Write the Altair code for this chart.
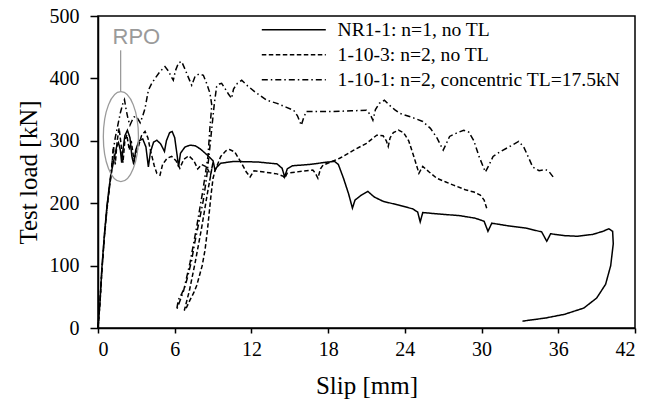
import altair as alt
import pandas as pd

# ---- data ----
series_labels = ["NR1-1: n=1, no TL", "1-10-3: n=2, no TL", "1-10-1: n=2, concentric TL=17.5kN"]

nr_slip = [0, 0.15, 0.3, 0.5, 0.7, 0.9, 1.1, 1.3, 1.45, 1.6, 1.75, 1.85, 1.95, 2.1, 2.3, 2.5, 2.65, 2.8,
           2.95, 3.2, 3.5, 3.75, 3.94, 4.1, 4.35, 4.6, 4.9, 5.2, 5.35, 5.6, 5.8, 6.0, 6.2, 6.3, 6.45, 6.8,
           7.2, 7.6, 8.0, 8.5, 9.0, 9.15, 9.3, 9.6, 10.6, 12.5, 14.0, 14.4, 14.6, 14.8, 15.2, 16.5, 18.0,
           18.5, 18.8, 19.2, 19.6, 19.9, 20.1, 20.6, 21.1, 21.6, 22.3, 23.5, 24.6, 25.0, 25.2, 25.4, 26.5,
           28.3, 29.5, 30.2, 30.5, 30.8, 32.0, 33.5, 34.7, 35.1, 35.4, 36.5, 37.5, 38.7, 39.5, 39.95, 40.25,
           40.3, 40.1, 39.7, 39.0, 38.0, 36.5, 35.0, 33.2]
nr_load = [0, 40, 95, 150, 195, 230, 255, 275, 290, 297, 285, 265, 285, 308, 317, 305, 275, 262,
           285, 300, 303, 290, 258, 282, 298, 301, 295, 283, 300, 313, 315, 305, 275, 258, 280, 290,
           293, 292, 287, 278, 268, 253, 258, 264, 267, 266, 263, 256, 242, 255, 260, 262, 266,
           267, 262, 240, 215, 192, 205, 213, 219, 210, 203, 197, 191, 186, 170, 185, 183,
           180, 176, 171, 155, 168, 164, 160, 154, 139, 151, 148, 147, 150, 155, 159, 155,
           135, 100, 70, 48, 32, 22, 16, 11]

s3_slip = [0, 0.15, 0.3, 0.5, 0.7, 0.9, 1.05, 1.2, 1.35, 1.5, 1.65, 1.8, 1.95, 2.1, 2.25, 2.45, 2.6,
           2.8, 3.15, 3.4, 3.68, 3.9, 4.1, 4.4, 4.6, 4.85, 5.05, 5.4, 5.76, 6.1, 6.4, 6.7, 7.1, 7.5, 7.8,
           8.1, 8.5, 8.8, 9.0, 8.55, 8.1, 7.6, 7.15, 6.75, 6.9, 7.2, 7.5, 7.72, 7.95, 8.15, 8.37, 8.55,
           8.7, 8.85, 9.0, 9.15, 9.35, 9.6, 10.0, 10.3, 10.7, 11.2, 11.6, 11.9, 12.2, 13.0, 14.0, 14.5,
           14.6, 14.8, 15.5, 16.3, 16.8, 17.0, 17.2, 17.4, 17.6, 18.2, 18.9, 20.0, 21.0, 21.8, 22.3,
           22.55, 22.7, 22.85, 23.1, 23.5, 23.9, 24.3, 24.7, 25.1, 25.4, 25.9, 26.5, 27.2, 27.8, 28.8,
           29.4, 29.9, 30.2, 30.4]
s3_load = [0, 38, 90, 145, 190, 225, 250, 290, 262, 300, 320, 295, 265, 300, 310, 285, 300,
           270, 290, 308, 315, 305, 285, 260, 248, 245, 262, 272, 275, 268, 256, 270, 276, 268, 255,
           262, 258, 245, 266, 215, 160, 105, 60, 28, 32, 45, 57, 68, 85, 100, 125, 155,
           185, 215, 240, 252, 262, 275, 284, 286, 282, 265, 250, 242, 252, 250, 247, 243,
           240, 248, 250, 252, 253, 248, 240, 255, 261, 266, 272, 285, 296, 309, 308,
           300, 291, 305, 313, 317, 313, 300, 275, 248, 259, 250, 240, 234, 229, 221,
           218, 213, 205, 192]

s1_slip = [0, 0.15, 0.3, 0.5, 0.7, 0.9, 1.05, 1.2, 1.35, 1.5, 1.75, 1.95, 2.07, 2.2, 2.35, 2.5, 2.63,
           2.8, 3.0, 3.3, 3.5, 3.68, 3.94, 4.2, 4.46, 4.85, 5.24, 5.5, 5.75, 5.89, 6.05, 6.3, 6.54, 6.8,
           7.1, 7.33, 7.59, 7.9, 8.24, 8.5, 8.76, 8.9, 8.75, 8.6, 8.2, 7.7, 7.2, 6.7, 6.15, 6.28, 6.55,
           6.8, 7.05, 7.33, 7.55, 7.72, 8.0, 8.24, 8.5, 8.7, 8.9, 9.1, 9.28, 9.5, 9.67, 9.9, 10.2, 10.45,
           10.6, 10.9, 11.24, 11.7, 12.3, 13.2, 14.0, 14.7, 15.3, 15.6, 15.9, 16.1, 16.3, 17.5, 18.4,
           19.8, 21.0, 21.3, 21.5, 21.7, 22.0, 22.4, 22.8, 23.2, 23.6, 24.5, 25.4, 26.0, 26.5, 27.0,
           27.3, 27.5, 28.0, 28.6, 29.0, 29.4, 29.8, 30.3, 30.6, 30.9, 31.5, 32.3, 32.9, 33.3, 33.7,
           34.0, 34.5, 35.0, 35.3, 35.6]
s1_load = [0, 40, 92, 148, 193, 228, 255, 285, 305, 320, 345, 360, 366, 350, 335, 325, 331,
           338, 339, 329, 340, 352, 381, 392, 400, 411, 419, 412, 402, 397, 412, 425, 427, 415,
           400, 389, 403, 407, 405, 392, 376, 357, 320, 275, 220, 160, 105, 60, 29, 45, 55,
           66, 85, 109, 135, 152, 180, 205, 242, 280, 320, 360, 387, 391, 392, 385, 375, 368,
           383, 392, 397, 388, 378, 365, 360, 354, 349, 340, 325, 338, 347, 347, 347,
           348, 349, 342, 333, 350, 360, 365, 357, 350, 344, 338, 331, 320, 305, 285,
           298, 307, 312, 317, 314, 300, 275, 250, 262, 275, 283, 292, 299, 290, 272,
           258, 252, 254, 250, 242]

# RPO annotation
rpo_center = [1.79, 306.6]
rpo_leader_x = [1.77]
rpo_leader_y = [379]
rpo_leader_y2 = [445]
rpo_text = ["RPO"]
rpo_text_x = [3.0]
rpo_text_y = [455]

x_ticks = [0, 6, 12, 18, 24, 30, 36, 42]
y_ticks = [0, 100, 200, 300, 400, 500]

# ---- build table ----
rows = []
for lab, xs, ys in [(series_labels[0], nr_slip, nr_load),
                    (series_labels[1], s3_slip, s3_load),
                    (series_labels[2], s1_slip, s1_load)]:
    for i, (a, b) in enumerate(zip(xs, ys)):
        rows.append({"series": lab, "slip": a, "load": b, "i": i})
df = pd.DataFrame(rows)

SERIF = "Liberation Serif"
xscale = alt.Scale(domain=[0, 42], nice=False)
yscale = alt.Scale(domain=[0, 500], nice=False)

lines = alt.Chart(df).mark_line(color="black", strokeWidth=1.5).encode(
    x=alt.X("slip:Q", scale=xscale,
            axis=alt.Axis(title="Slip [mm]", values=x_ticks, grid=False)),
    y=alt.Y("load:Q", scale=yscale,
            axis=alt.Axis(title="Test load [kN]", values=y_ticks, grid=False)),
    strokeDash=alt.StrokeDash(
        "series:N",
        scale=alt.Scale(domain=series_labels, range=[[1, 0], [4.5, 2.5], [6, 3, 1.5, 3]]),
        legend=alt.Legend(
            title=None, orient="none", legendX=214, legendY=4, padding=0,
            symbolType="M-15,0H1", symbolSize=64, symbolStrokeWidth=1.5,
            symbolStrokeColor="black", labelFont=SERIF, labelFontSize=19.6,
            labelColor="black", labelOffset=6, labelLimit=600, rowPadding=4,
        ),
    ),
    order="i:Q",
)

ell_df = pd.DataFrame({"slip": [rpo_center[0]], "load": [rpo_center[1]]})
ellipse = alt.Chart(ell_df).mark_point(
    shape="M0,-1A0.39,1 0 1,1 0,1A0.39,1 0 1,1 0,-1Z",
    size=8100, filled=False, color="#9a9a9a", strokeWidth=1.3, opacity=1,
).encode(x=alt.X("slip:Q", scale=xscale), y=alt.Y("load:Q", scale=yscale))

lead_df = pd.DataFrame({"slip": rpo_leader_x, "y1": rpo_leader_y, "y2": rpo_leader_y2})
leader = alt.Chart(lead_df).mark_rule(color="#9a9a9a", strokeWidth=1.3).encode(
    x=alt.X("slip:Q", scale=xscale), y=alt.Y("y1:Q", scale=yscale), y2="y2:Q")

txt_df = pd.DataFrame({"slip": rpo_text_x, "load": rpo_text_y, "t": rpo_text})
label = alt.Chart(txt_df).mark_text(
    font="Liberation Sans", fontSize=22, color="#9a9a9a", align="center", baseline="alphabetic"
).encode(x=alt.X("slip:Q", scale=xscale), y=alt.Y("load:Q", scale=yscale), text="t:N")

chart = alt.layer(lines, ellipse, leader, label).properties(
    width=537, height=312,
    autosize=alt.AutoSizeParams(type="none"),
    padding={"left": 90, "top": 8, "right": 15, "bottom": 71},
).configure_view(
    stroke="black", strokeWidth=1.5
).configure_axis(
    domainColor="black", domainWidth=1.5, tickColor="black", tickWidth=1.5,
    labelFont=SERIF, labelFontSize=20, labelColor="black",
    titleFont=SERIF, titleFontSize=25, titleFontWeight="normal", titleColor="black",
).configure_axisX(
    tickSize=5, labelPadding=6, titlePadding=14,
).configure_axisY(
    tickSize=8, labelPadding=11, titlePadding=8,
)

chart.save("out.html", embed_options={"renderer": "svg", "actions": False})
